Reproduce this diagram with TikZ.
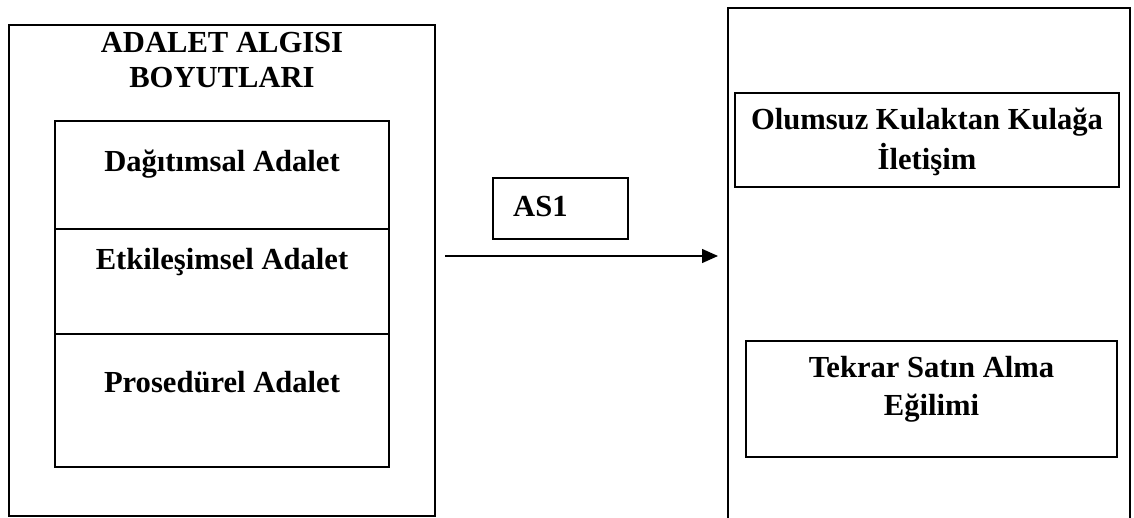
\documentclass[tikz,border=0pt]{standalone}
\usepackage{fontspec}
\setmainfont{Liberation Serif}
\usetikzlibrary{arrows.meta}
\begin{document}
\begin{tikzpicture}[x=1pt,y=-1pt,
  lbox/.style={draw, line width=2.8pt, inner sep=0pt, outer sep=0pt},
  rbox/.style={draw, line width=2pt, inner sep=0pt, outer sep=0pt},
  sbox/.style={draw, line width=1.5pt, inner sep=0pt, outer sep=0pt},
  lbl/.style={font=\fontsize{30.6}{35}\selectfont\bfseries, align=center, inner sep=0pt, anchor=base},
]
\useasboundingbox (0,0) rectangle (1134,518);
% left side
\node[lbox, minimum width=426pt, minimum height=491pt] (outer) at (222,270.5) {};
\node[lbox, minimum width=334pt, minimum height=108pt] (dag) at (222,175) {};
\node[lbox, minimum width=334pt, minimum height=105pt] (etk) at (222,281.5) {};
\node[lbox, minimum width=334pt, minimum height=133pt] (pro) at (222,400.5) {};
\node[lbl] (title) at (222,88) {ADALET ALGISI\\BOYUTLARI};
\node[lbl] (dagt) at (222,172) {Dağıtımsal Adalet};
\node[lbl] (etkt) at (222,270) {Etkileşimsel Adalet};
\node[lbl] (prot) at (222,392) {Prosedürel Adalet};
% middle
\node[sbox, minimum width=135pt, minimum height=61pt] (as) at (560.5,208.5) {};
\node[lbl, anchor=base west] (ast) at (513,217) {AS1};
\coordinate (a1) at (445,256);
\coordinate (a2) at (718,256);
\draw[line width=1.3pt, -{Triangle[length=16pt,width=14pt]}] (a1) -- (a2);
% right side
\node[minimum width=402pt, minimum height=516pt, inner sep=0pt, outer sep=0pt] (right) at (929,266) {};
\draw[line width=2.2pt] (right.south west) -- (right.north west) -- (right.north east) -- (right.south east);
\node[rbox, minimum width=384pt, minimum height=94pt] (olm) at (927,140) {};
\node[rbox, minimum width=371pt, minimum height=116pt] (tek) at (931.5,399) {};
\node[lbl, font=\fontsize{30.6}{40}\selectfont\bfseries] (olmt) at (927,170) {Olumsuz Kulaktan Kulağa\\İletişim};
\node[lbl, font=\fontsize{30.6}{38}\selectfont\bfseries] (tekt) at (931.5,415) {Tekrar Satın Alma\\Eğilimi};
\end{tikzpicture}
\end{document}
